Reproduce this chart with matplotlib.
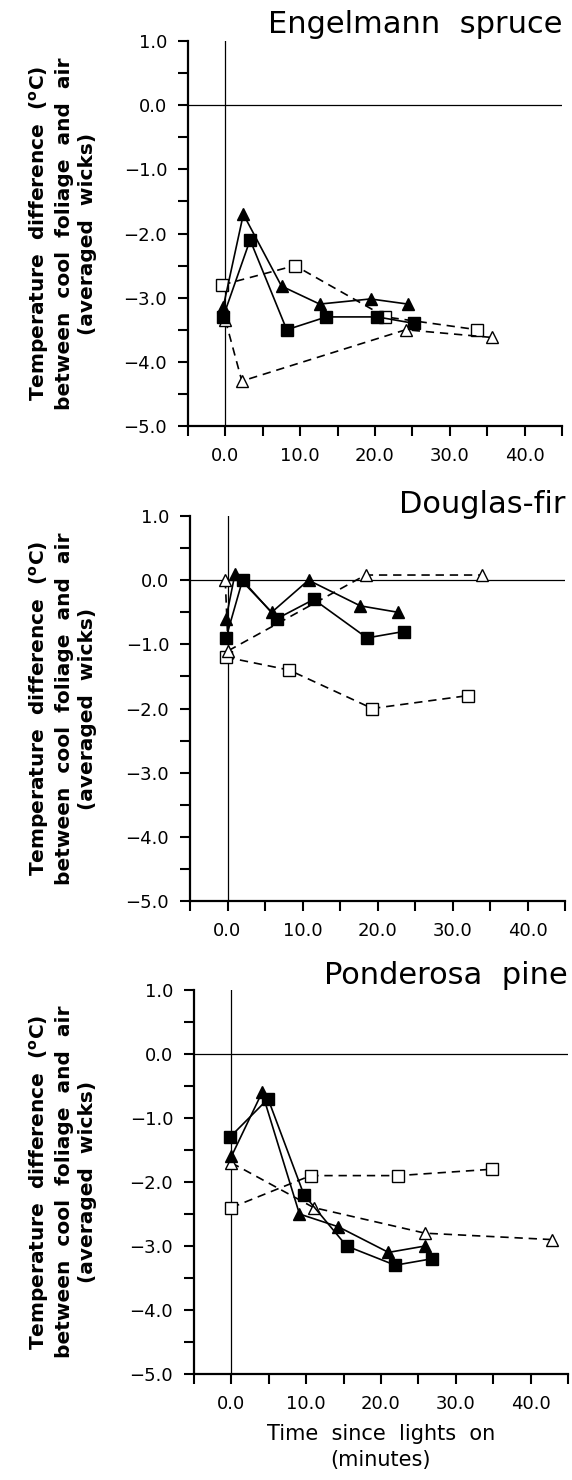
import matplotlib
matplotlib.use("Agg")
import matplotlib.pyplot as plt
from matplotlib.ticker import MultipleLocator, FuncFormatter

# Engelmann spruce
es_fsq_x = [-0.3, 3.3, 8.2, 13.5, 20.3, 25.2]
es_fsq_y = [-3.3, -2.1, -3.5, -3.3, -3.3, -3.4]
es_ftr_x = [-0.3, 2.4, 7.5, 12.6, 19.4, 24.4]
es_ftr_y = [-3.15, -1.7, -2.82, -3.1, -3.02, -3.1]
es_osq_x = [-0.4, 9.3, 21.4, 33.7]
es_osq_y = [-2.8, -2.5, -3.3, -3.5]
es_otr_x = [0.0, 2.2, 24.1, 35.6]
es_otr_y = [-3.35, -4.3, -3.5, -3.62]

# Douglas-fir
df_fsq_x = [-0.2, 2.0, 6.6, 11.5, 18.6, 23.5]
df_fsq_y = [-0.9, 0.0, -0.6, -0.3, -0.9, -0.8]
df_ftr_x = [-0.2, 1.0, 5.9, 10.8, 17.7, 22.7]
df_ftr_y = [-0.6, 0.1, -0.5, 0.0, -0.4, -0.5]
df_osq_x = [-0.2, 8.2, 19.3, 32.0]
df_osq_y = [-1.2, -1.4, -2.0, -1.8]
df_otr_x = [-0.3, 0.1, 18.4, 33.9]
df_otr_y = [0.0, -1.1, 0.08, 0.08]

# Ponderosa pine
pp_fsq_x = [-0.2, 4.9, 9.7, 15.4, 21.9, 26.8]
pp_fsq_y = [-1.3, -0.7, -2.2, -3.0, -3.3, -3.2]
pp_ftr_x = [0.0, 4.1, 9.1, 14.3, 21.0, 25.9]
pp_ftr_y = [-1.6, -0.6, -2.5, -2.7, -3.1, -3.0]
pp_osq_x = [0.0, 10.6, 22.3, 34.9]
pp_osq_y = [-2.4, -1.9, -1.9, -1.8]
pp_otr_x = [0.0, 11.0, 25.9, 42.9]
pp_otr_y = [-1.7, -2.4, -2.8, -2.9]

titles = ["Engelmann  spruce", "Douglas-fir", "Ponderosa  pine"]
ylabel = ("Temperature  difference  ($^{\\mathbf{o}}$C)\n"
          "between  cool  foliage  and  air\n(averaged  wicks)")
xlabel = "Time  since  lights  on\n(minutes)"

W, H = 572, 1480
fig = plt.figure(figsize=(W / 100, H / 100), dpi=100)
plt.rcParams['font.family'] = ['DejaVu Sans']
plt.rcParams['mathtext.fontset'] = 'dejavusans'

# panel boxes in pixels: left, top, right, bottom
boxes = [(188, 41, 562, 426), (190, 516, 565, 901), (194, 990, 568, 1374)]
title_off = [8, 3, 6]

series = [
    [(es_fsq_x, es_fsq_y), (es_ftr_x, es_ftr_y), (es_osq_x, es_osq_y), (es_otr_x, es_otr_y)],
    [(df_fsq_x, df_fsq_y), (df_ftr_x, df_ftr_y), (df_osq_x, df_osq_y), (df_otr_x, df_otr_y)],
    [(pp_fsq_x, pp_fsq_y), (pp_ftr_x, pp_ftr_y), (pp_osq_x, pp_osq_y), (pp_otr_x, pp_otr_y)],
]
styles = [
    dict(marker='s', ls='-', mfc='black', zorder=4),
    dict(marker='^', ls='-', mfc='black', zorder=5),
    dict(marker='s', ls=(0, (5, 3.5)), mfc='white', zorder=3),
    dict(marker='^', ls=(0, (5, 3.5)), mfc='white', zorder=3),
]

fmt = FuncFormatter(lambda v, p: ("%.1f" % v).replace("-", "\u2212"))

axes = []
for i in range(3):
    l, t, r, b = boxes[i]
    ax = fig.add_axes([l / W, 1 - b / H, (r - l) / W, (b - t) / H])
    axes.append(ax)
    ax.set_xlim(-5, 45)
    ax.set_ylim(-5, 1)
    ax.axhline(0, color='black', lw=0.9, zorder=1)
    ax.axvline(0, color='black', lw=0.9, zorder=1)
    for (xs, ys), st in zip(series[i], styles):
        ax.plot(xs, ys, color='black', lw=1.2, ms=8.5, mec='black', mew=1.0, **st)

    for s in ['top', 'right']:
        ax.spines[s].set_visible(False)
    for s in ['left', 'bottom']:
        ax.spines[s].set_linewidth(1.6)
    ax.xaxis.set_major_locator(MultipleLocator(10))
    ax.yaxis.set_major_locator(MultipleLocator(1))
    ax.yaxis.set_minor_locator(MultipleLocator(0.5))
    ax.xaxis.set_major_formatter(fmt)
    ax.yaxis.set_major_formatter(fmt)
    ax.tick_params(which='both', direction='out', length=7, width=1.5,
                   labelsize=13, pad=8)
    ax.set_xticks([v for v in range(-5, 46, 5) if v % 10 != 0], minor=True)
    ax.patch.set_alpha(0)

    ax.annotate(titles[i], xy=(1.0, 1.0), xycoords='axes fraction',
                xytext=(0, title_off[i]), textcoords='offset pixels',
                ha='right', va='baseline', fontsize=22)

    yc = 1 - (t + b) / 2 / H
    fig.text(62 / W, yc, ylabel, rotation=90, ha='center', va='center',
             multialignment='center', fontsize=14.5, fontweight='bold',
             linespacing=1.25)

fig.text(381 / W, 1 - 1424 / H, xlabel, ha='center', va='top',
         multialignment='center', fontsize=15, linespacing=1.35)

fig.savefig("out.png", dpi=100)
